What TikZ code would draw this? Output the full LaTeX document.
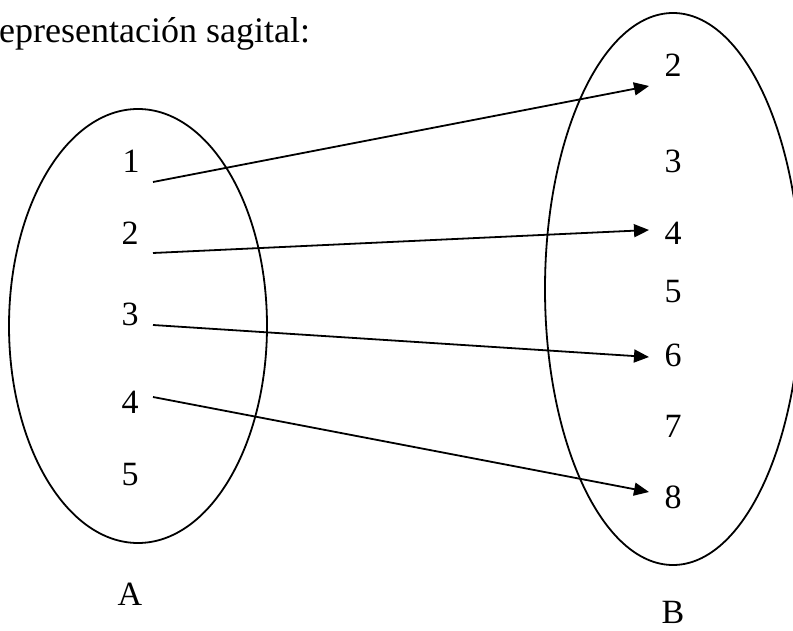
\documentclass[tikz,border=0pt]{standalone}
\usepackage{fontspec}
\setmainfont{Liberation Serif}
\usetikzlibrary{arrows.meta}
\begin{document}
\begin{tikzpicture}[x=1pt,y=-1pt,
  lbl/.style={font=\fontsize{34}{40}\selectfont, anchor=base, inner sep=0pt},
  setline/.style={line width=1.8pt},
  mapar/.style={line width=1.8pt, -{Triangle[length=15pt,width=13pt]}}]
\useasboundingbox (0,0) rectangle (793,631);
% title
\node[lbl, anchor=base west, font=\fontsize{36}{40}\selectfont] (title) at (-1,43) {epresentación sagital:};
% ellipses
\draw[setline] (138,326) ellipse [x radius=129, y radius=217];
\draw[setline] (673,289) ellipse [x radius=128, y radius=276];
% set A
\node[lbl] (a1) at (131,173) {1};
\node[lbl] (a2) at (130,245) {2};
\node[lbl] (a3) at (130,325) {3};
\node[lbl] (a4) at (130,413) {4};
\node[lbl] (a5) at (130,485) {5};
\node[lbl] (A) at (130,605) {A};
% set B
\node[lbl] (b2) at (673,77) {2};
\node[lbl] (b3) at (673,173) {3};
\node[lbl] (b4) at (673,245) {4};
\node[lbl] (b5) at (673,302) {5};
\node[lbl] (b6) at (673,366) {6};
\node[lbl] (b7) at (673,437) {7};
\node[lbl] (b8) at (673,508) {8};
\node[lbl] (B) at (673,623) {B};
% arrow ends
\coordinate (s1) at (153,182);
\coordinate (s2) at (153,253);
\coordinate (s3) at (153,325);
\coordinate (s4) at (153,397);
\coordinate (t1) at (649,86);
\coordinate (t2) at (649,230);
\coordinate (t3) at (649,357);
\coordinate (t4) at (649,492);
\draw[mapar] (s1) -- (t1);
\draw[mapar] (s2) -- (t2);
\draw[mapar] (s3) -- (t3);
\draw[mapar] (s4) -- (t4);
\end{tikzpicture}
\end{document}
